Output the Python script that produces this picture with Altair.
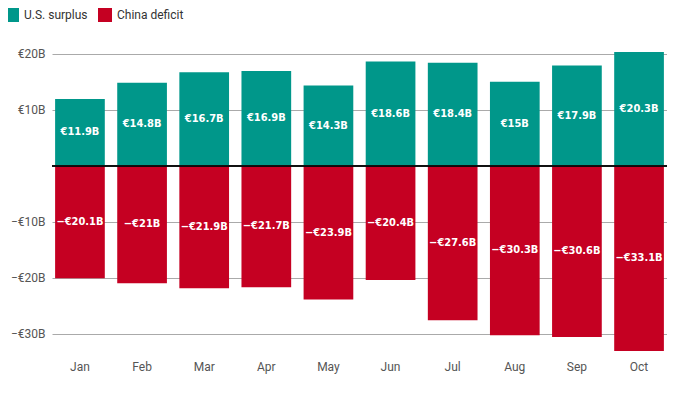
import altair as alt
import pandas as pd

months = ["Jan", "Feb", "Mar", "Apr", "May", "Jun", "Jul", "Aug", "Sep", "Oct"]
surplus = [11.9, 14.8, 16.7, 16.9, 14.3, 18.6, 18.4, 15, 17.9, 20.3]
deficit = [-20.1, -21, -21.9, -21.7, -23.9, -20.4, -27.6, -30.3, -30.6, -33.1]
series_names = ["U.S. surplus", "China deficit"]
series_colors = ["#00978a", "#c50022"]
y_ticks = [-30, -20, -10, 10, 20]


def fmt(v):
    s = f"{abs(v):g}"
    return ("\u2212€" if v < 0 else "€") + s + "B"


rows = []
for m, s, d in zip(months, surplus, deficit):
    rows.append({"month": m, "series": series_names[0], "value": s, "label": fmt(s)})
    rows.append({"month": m, "series": series_names[1], "value": d, "label": fmt(d)})
df = pd.DataFrame(rows)

FONT = "Roboto"

x_enc = alt.X(
    "month:N",
    sort=months,
    title=None,
    scale=alt.Scale(paddingInner=0.2, paddingOuter=0.05),
    axis=alt.Axis(labelAngle=0, ticks=False, domain=False, labelPadding=10,
                  labelFont=FONT, labelFontSize=12, labelColor="#555"),
)

base = alt.Chart(df)

bars = base.mark_bar().encode(
    x=x_enc,
    y=alt.Y(
        "value:Q",
        title=None,
        scale=alt.Scale(domain=[-33.1, 20.3], nice=False, zero=True),
        axis=alt.Axis(values=y_ticks, ticks=False, domain=False, labelPadding=7,
                      grid=True, gridColor="#aaaaaa", gridWidth=1,
                      labelFont=FONT, labelFontSize=12, labelColor="#555",
                      labelExpr="datum.value < 0 ? '\u2212€' + abs(datum.value) + 'B' : '€' + datum.value + 'B'"),
    ),
    color=alt.Color(
        "series:N",
        scale=alt.Scale(domain=series_names, range=series_colors),
        legend=alt.Legend(title=None, orient="none", legendX=-47, legendY=-44,
                          direction="horizontal", symbolType="square", symbolSize=196,
                          symbolStrokeWidth=0, labelFont=FONT, labelFontSize=12,
                          labelColor="#333", columnPadding=10, labelOffset=5,
                          symbolOpacity=1),
    ),
)

labels = base.transform_calculate(mid="datum.value / 2").mark_text(
    color="white", fontWeight="bold", font="DejaVu Sans Condensed", fontSize=11,
    align="center", baseline="middle",
).encode(
    x=alt.X("month:N", sort=months),
    y=alt.Y("mid:Q"),
    text="label:N",
)

zero = alt.Chart(df).mark_rule(color="#111", strokeWidth=1).encode(y=alt.datum(0))

chart = alt.layer(bars, zero, labels).properties(
    width=615,
    height=299,
    autosize=alt.AutoSizeParams(type="none"),
    padding={"left": 44, "top": 44, "right": 0, "bottom": 30},
).configure_view(stroke=None)

chart.save("out.html", embed_options={"renderer": "svg", "actions": False})
